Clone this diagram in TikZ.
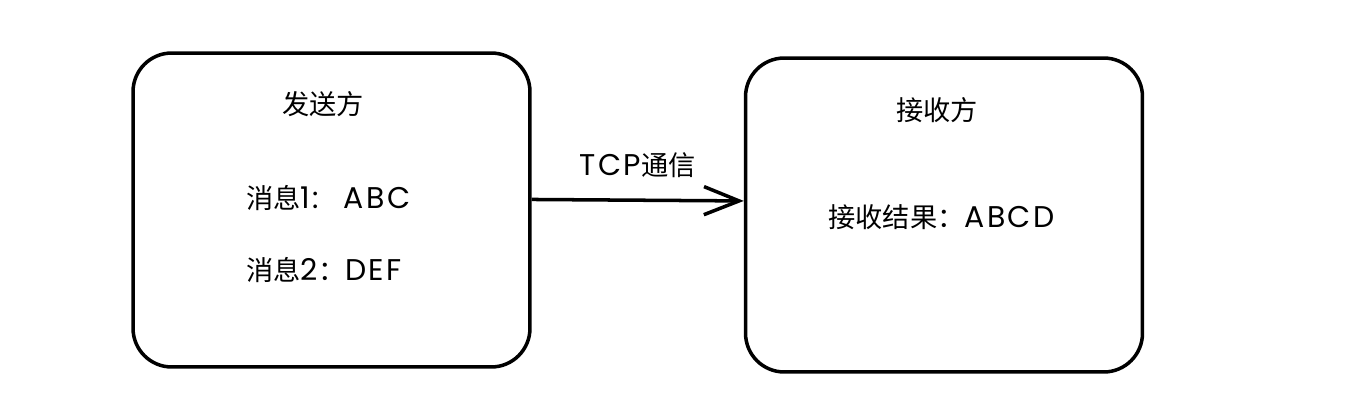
\documentclass[tikz,border=0pt]{standalone}
\usepackage{fontspec}
\setmainfont{Noto Sans CJK SC}
\newfontfamily\latinfont[Scale=1.1, LetterSpace=8]{Poppins}
\usetikzlibrary{arrows.meta, positioning}

\begin{document}
\begin{tikzpicture}[x=0.02cm, y=-0.02cm,
    party/.style={draw, line width=2pt, rounded corners=22pt, minimum width=7.94cm, minimum height=6.28cm},
    txt/.style={font=\fontsize{15.5}{18}\selectfont, inner sep=0pt}]
                \useasboundingbox (0,0) rectangle (1351,412);

                % Sender
                \node[party] (sender) at (331.5,210) {};
                \node[txt] (stitle) at (323,104) {发送方};
                \node[txt, anchor=west] (msga) at (246,198) {消息{\latinfont 1:}\hspace{0.9em}{\latinfont ABC}};
                \node[txt, anchor=west] (msgb) at (246,270) {消息{\latinfont 2}：{\latinfont DEF}};

                % Receiver
                \node[party] (receiver) at (944,215) {};
                \node[txt] (rtitle) at (937,110) {接收方};
                \node[txt, anchor=west] (result) at (828,217) {接收结果：{\latinfont ABCD}};

                % Connection
                \draw[line width=2pt, -{Straight Barb[length=20pt, width=16pt]}]
                    ([yshift=6pt]sender.east) -- node[txt, above=12pt] (tcp) {{\latinfont TCP}通信} ([yshift=8pt]receiver.west);
            \end{tikzpicture}
\end{document}
